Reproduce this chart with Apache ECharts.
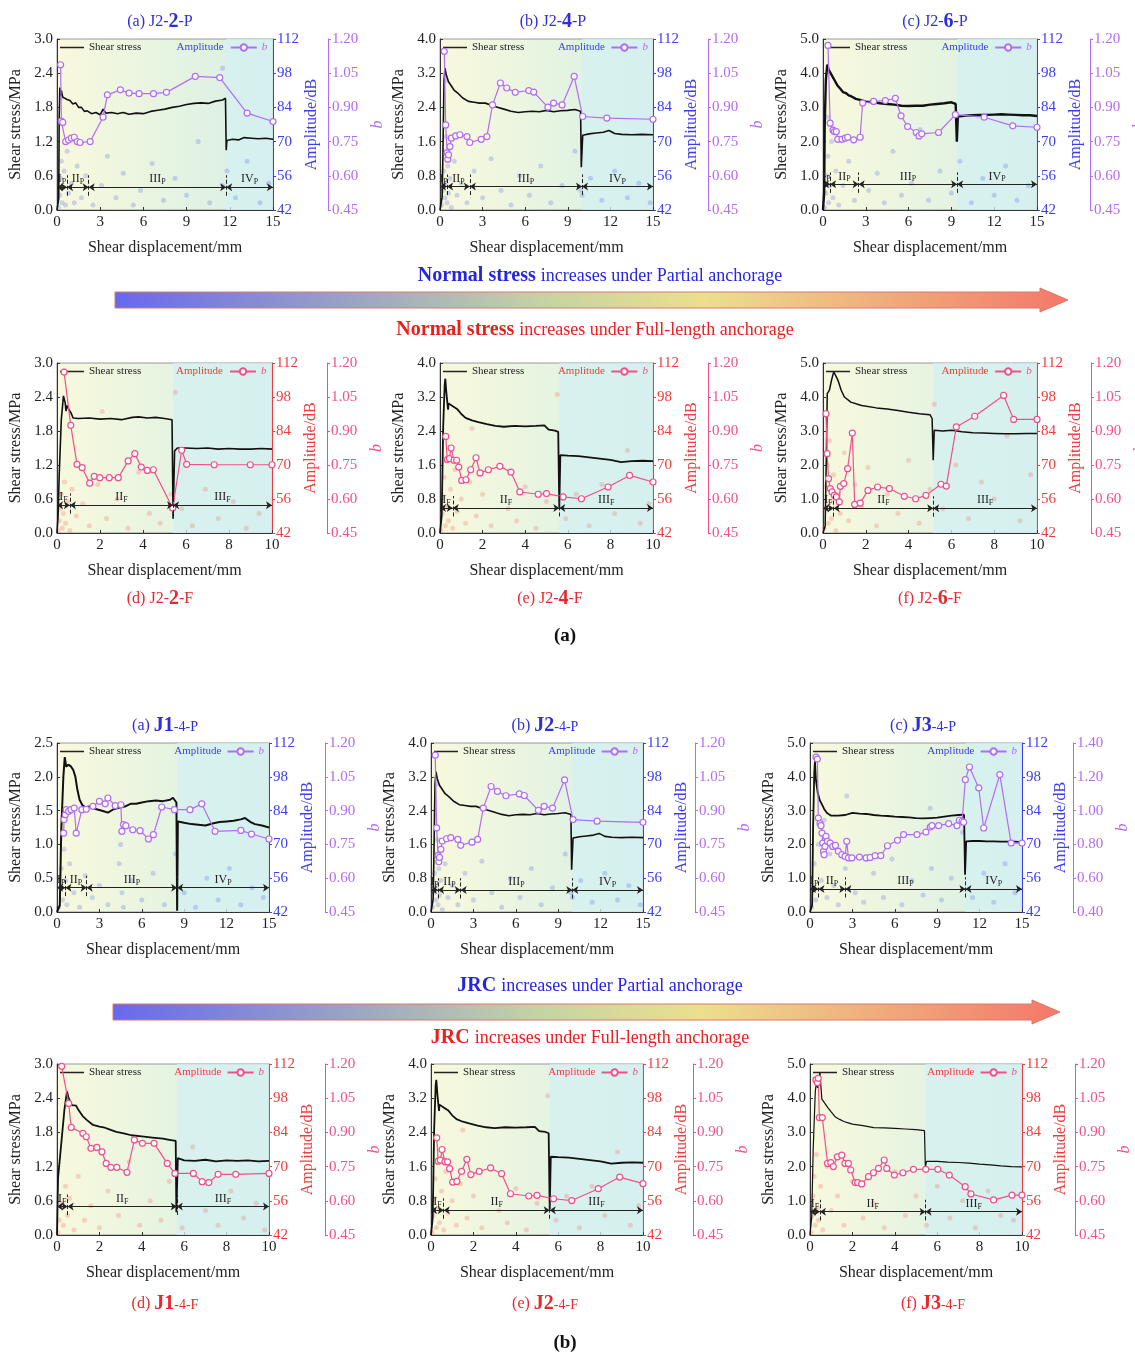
<!DOCTYPE html>
<html>
<head>
<meta charset="utf-8">
<script src="https://cdn.jsdelivr.net/npm/echarts@6/dist/echarts.min.js"></script>
<style>html,body{margin:0;background:#fff}#main{width:1135px;height:1357px}</style>
</head>
<body>
<div id="main"></div>
<script>
// ---- data ----
const s_J22P = [[0,0],[0.12,0.2],[0.15,1.6],[0.2,2.15],[0.25,2.0],[0.3,2.1],[0.4,1.98],[0.5,2.0],[0.7,1.94],[0.9,1.92],[1.1,1.86],[1.3,1.88],[1.5,1.8],[1.7,1.8],[1.9,1.73],[2.1,1.74],[2.4,1.69],[2.7,1.71],[3.0,1.67],[3.2,1.77],[3.4,1.70],[3.8,1.71],[4.2,1.69],[4.6,1.71],[5.0,1.68],[5.5,1.70],[6.0,1.69],[6.5,1.73],[7.0,1.75],[7.5,1.77],[8.0,1.80],[8.5,1.82],[9.0,1.85],[9.5,1.87],[10.0,1.88],[10.5,1.87],[11.0,1.91],[11.5,1.93],[11.7,1.96],[11.75,1.05],[11.8,1.22],[12.2,1.24],[12.6,1.23],[13.0,1.27],[13.5,1.26],[14.0,1.25],[14.5,1.26],[15,1.24]];
const b_J22P = [[0.25,1.087],[0.3,0.84],[0.4,0.834],[0.6,0.75],[0.8,0.757],[1.0,0.765],[1.2,0.769],[1.4,0.75],[1.6,0.746],[2.3,0.75],[3.2,0.857],[3.5,0.955],[4.4,0.977],[5.0,0.963],[5.7,0.96],[6.7,0.96],[7.6,0.966],[9.6,1.036],[11.3,1.031],[13.2,0.875],[15,0.838]];
const amp_J22P = [[0.1,43],[0.2,48],[0.25,55],[0.3,62],[0.35,45],[0.4,51],[0.5,58],[0.6,44],[0.7,66],[0.8,49],[1.0,53],[1.2,45],[1.4,60],[1.7,47],[2.0,56],[2.5,44],[3.1,52],[3.5,64],[4.1,47],[4.6,57],[5.3,44],[5.8,50],[6.6,61],[7.4,46],[8.2,55],[9.0,48],[9.8,70],[10.6,45],[11.5,52],[11.8,58],[12.4,47],[13.2,62],[14.1,45],[14.7,53],[11.5,100],[0.3,88]];
const st_J22P = [0, 0.7, 2.2, 11.75, 15];

const s_J24P = [[0,0],[0.15,0.3],[0.2,1.2],[0.28,3.0],[0.35,3.32],[0.45,3.15],[0.6,3.0],[0.8,2.9],[1.0,2.8],[1.3,2.72],[1.6,2.62],[2.0,2.54],[2.4,2.52],[2.8,2.5],[3.2,2.5],[3.7,2.44],[4.1,2.40],[4.5,2.36],[5.0,2.31],[5.5,2.28],[6.0,2.30],[6.5,2.31],[7.0,2.30],[7.5,2.33],[8.0,2.30],[8.5,2.32],[9.0,2.33],[9.5,2.35],[9.9,2.31],[9.95,1.0],[10.05,1.75],[10.5,1.78],[11.0,1.80],[11.5,1.82],[11.9,1.86],[12.3,1.79],[12.8,1.77],[13.5,1.76],[14.2,1.77],[15,1.76]];
const b_J24P = [[0.3,1.146],[0.4,0.823],[0.5,0.70],[0.55,0.673],[0.6,0.692],[0.7,0.728],[0.8,0.765],[1.1,0.775],[1.4,0.78],[1.9,0.772],[2.1,0.746],[2.9,0.76],[3.3,0.772],[3.7,0.911],[4.25,1.007],[4.7,0.985],[5.3,0.966],[6.25,0.974],[6.6,0.967],[7.6,0.901],[8.0,0.919],[8.6,0.911],[9.45,1.036],[10.05,0.86],[11.75,0.853],[15,0.848]];
const amp_J24P = [[0.1,44],[0.2,50],[0.25,58],[0.3,66],[0.35,47],[0.4,53],[0.45,72],[0.5,45],[0.55,60],[0.6,49],[0.7,55],[0.8,43],[1.0,62],[1.2,48],[1.5,53],[1.9,45],[2.4,58],[3.0,47],[3.6,63],[4.3,50],[5.0,44],[5.6,56],[6.3,48],[7.1,60],[7.8,45],[8.6,52],[9.5,66],[10.0,48],[10.6,55],[11.4,46],[12.3,58],[13.2,47],[14.0,53],[14.8,45],[0.4,95],[9.9,50]];
const st_J24P = [0, 0.5, 2.1, 10.0, 15];

const s_J26P = [[0,0],[0.08,0.5],[0.12,2.5],[0.2,3.8],[0.3,4.25],[0.4,4.1],[0.5,4.15],[0.6,3.95],[0.8,3.8],[1.0,3.65],[1.2,3.55],[1.4,3.45],[1.6,3.42],[1.8,3.35],[2.0,3.32],[2.3,3.25],[2.6,3.22],[3.0,3.17],[3.5,3.15],[4.0,3.12],[4.5,3.1],[5.0,3.08],[5.5,3.05],[6.0,3.04],[6.5,3.05],[7.0,3.05],[7.5,3.08],[8.0,3.1],[8.5,3.12],[9.0,3.15],[9.3,3.1],[9.38,2.0],[9.45,2.73],[10.0,2.76],[10.5,2.77],[11.0,2.78],[11.5,2.78],[12.0,2.79],[12.5,2.8],[13.0,2.79],[13.5,2.78],[14.0,2.77],[14.5,2.77],[15,2.75]];
const b_J26P = [[0.35,1.172],[0.5,0.831],[0.7,0.80],[0.8,0.794],[0.93,0.794],[1.03,0.76],[1.33,0.76],[1.56,0.765],[1.73,0.769],[2.15,0.758],[2.6,0.769],[2.78,0.919],[3.55,0.926],[4.37,0.93],[5.07,0.94],[5.47,0.863],[5.93,0.816],[6.54,0.79],[6.73,0.775],[6.92,0.784],[8.1,0.79],[9.28,0.868],[11.3,0.857],[13.3,0.819],[15,0.813]];
const amp_J26P = [[0.1,43],[0.2,49],[0.3,56],[0.35,64],[0.4,45],[0.5,52],[0.6,70],[0.7,47],[0.9,58],[1.1,44],[1.4,52],[1.8,62],[2.2,46],[2.7,72],[3.2,50],[3.8,57],[4.3,45],[4.9,66],[5.5,48],[6.2,53],[6.8,75],[7.4,46],[8.2,58],[9.0,49],[9.6,62],[10.4,45],[11.2,55],[12.0,48],[12.8,60],[13.6,46],[14.4,52],[0.3,80]];
const st_J26P = [0, 0.5, 2.5, 9.4, 15];

const s_J22F = [[0,0],[0.05,0.3],[0.1,1.0],[0.2,2.0],[0.3,2.42],[0.38,2.3],[0.42,2.15],[0.45,2.25],[0.55,2.18],[0.65,2.12],[0.75,2.03],[1.0,2.02],[1.5,2.03],[2.0,2.01],[2.5,2.02],[3.0,2.0],[3.5,2.04],[3.8,2.05],[4.2,2.03],[4.6,2.04],[5.0,2.02],[5.35,2.0],[5.4,0.25],[5.47,1.45],[5.6,1.5],[6.0,1.5],[6.5,1.49],[7.0,1.5],[7.5,1.48],[8.0,1.49],[8.5,1.48],[9.0,1.48],[9.5,1.49],[10,1.48]];
const b_J22F = [[0.33,1.16],[0.64,0.925],[0.93,0.753],[1.17,0.738],[1.52,0.67],[1.73,0.70],[1.99,0.694],[2.43,0.694],[2.85,0.694],[3.31,0.768],[3.62,0.80],[3.92,0.741],[4.2,0.726],[4.48,0.729],[5.38,0.56],[5.8,0.815],[6.03,0.753],[7.31,0.751],[8.99,0.751],[10,0.751]];
const amp_J22F = [[0.05,43],[0.1,47],[0.15,52],[0.2,58],[0.25,44],[0.3,50],[0.35,63],[0.4,46],[0.5,55],[0.6,43],[0.7,60],[0.9,49],[1.2,54],[1.5,45],[1.9,62],[2.3,48],[2.8,56],[3.3,44],[3.8,67],[4.3,50],[4.8,46],[5.3,58],[5.5,100],[5.8,52],[6.3,45],[6.9,60],[7.5,48],[8.2,55],[8.8,44],[9.4,50],[2.1,92]];
const st_J22F = [0, 0.6, 5.4, 10];

const s_J24F = [[0,0],[0.08,0.4],[0.15,2.5],[0.22,3.5],[0.25,3.63],[0.3,3.3],[0.35,3.04],[0.38,2.9],[0.4,3.05],[0.6,2.98],[0.8,2.92],[1.0,2.8],[1.2,2.71],[1.5,2.65],[1.8,2.61],[2.2,2.56],[2.6,2.52],[3.0,2.5],[3.5,2.52],[4.0,2.51],[4.5,2.52],[4.9,2.53],[5.1,2.43],[5.4,2.41],[5.55,2.38],[5.6,0.6],[5.65,1.83],[6.0,1.82],[6.5,1.81],[7.0,1.78],[7.5,1.75],[8.0,1.72],[8.5,1.67],[9.0,1.69],[9.5,1.70],[10,1.69]];
const b_J24F = [[0.27,0.876],[0.34,0.774],[0.44,0.778],[0.52,0.825],[0.66,0.771],[0.78,0.771],[0.88,0.741],[1.02,0.682],[1.22,0.685],[1.44,0.729],[1.69,0.782],[1.88,0.715],[2.27,0.729],[2.81,0.744],[3.33,0.719],[3.75,0.631],[4.61,0.621],[5.0,0.624],[5.78,0.609],[6.64,0.601],[7.89,0.653],[8.9,0.704],[10,0.675]];
const amp_J24F = [[0.05,43],[0.1,50],[0.15,57],[0.2,65],[0.25,45],[0.3,72],[0.35,53],[0.4,47],[0.5,60],[0.6,44],[0.7,68],[0.8,51],[1.0,56],[1.2,46],[1.4,63],[1.7,49],[2.0,58],[2.4,45],[2.8,70],[3.2,52],[3.6,47],[4.0,61],[4.5,44],[5.0,55],[5.5,99],[5.9,48],[6.4,58],[7.0,45],[7.6,62],[8.2,50],[8.8,76],[9.4,46],[9.8,54],[1.5,85]];
const st_J24F = [0, 0.6, 5.6, 10];

const s_J26F = [[0,0],[0.1,0.2],[0.15,2.04],[0.2,4.1],[0.3,4.2],[0.4,4.5],[0.5,4.74],[0.6,4.62],[0.7,4.49],[0.85,4.2],[1.0,4.0],[1.3,3.85],[1.8,3.75],[2.5,3.68],[3.0,3.65],[3.5,3.6],[4.0,3.55],[4.5,3.51],[5.0,3.48],[5.1,3.36],[5.15,2.14],[5.2,3.02],[5.6,3.0],[6.0,3.02],[6.5,2.98],[7.0,2.95],[7.5,2.94],[8.0,2.93],[8.5,2.92],[9.0,2.92],[9.5,2.93],[10,2.93]];
const b_J26F = [[0.14,0.976],[0.19,0.8],[0.26,0.69],[0.34,0.646],[0.42,0.631],[0.53,0.616],[0.62,0.609],[0.76,0.587],[0.81,0.656],[0.97,0.668],[1.15,0.734],[1.37,0.891],[1.48,0.576],[1.74,0.582],[2.1,0.638],[2.55,0.653],[3.1,0.646],[3.8,0.612],[4.33,0.601],[4.81,0.616],[5.51,0.665],[5.76,0.657],[6.23,0.918],[7.09,0.965],[8.44,1.057],[8.91,0.951],[10,0.951]];
const amp_J26F = [[0.05,44],[0.1,52],[0.15,61],[0.2,70],[0.25,46],[0.3,80],[0.35,55],[0.4,48],[0.5,66],[0.6,43],[0.7,58],[0.8,50],[1.0,75],[1.2,47],[1.5,62],[1.8,53],[2.1,69],[2.5,45],[3.0,58],[3.5,50],[4.0,72],[4.5,46],[5.0,60],[5.2,95],[5.6,52],[6.2,70],[6.8,48],[7.4,63],[8.0,56],[8.6,82],[9.2,47],[9.7,66]];
const st_J26F = [0, 0.5, 5.15, 10];

const s_J14P = [[0,0],[0.2,0.1],[0.3,1.2],[0.45,2.0],[0.55,2.29],[0.65,2.15],[0.8,2.18],[1.0,2.15],[1.15,2.1],[1.3,2.0],[1.45,1.8],[1.6,1.66],[1.8,1.58],[2.0,1.55],[2.3,1.56],[2.6,1.53],[3.0,1.51],[3.3,1.49],[3.6,1.47],[4.0,1.52],[4.5,1.55],[4.8,1.56],[5.2,1.6],[5.6,1.6],[6.0,1.62],[6.5,1.64],[7.0,1.65],[7.5,1.64],[8.0,1.66],[8.2,1.69],[8.45,1.62],[8.5,0.02],[8.55,1.34],[9.0,1.32],[9.5,1.3],[10.0,1.29],[10.5,1.28],[11.0,1.31],[11.5,1.33],[12.0,1.34],[12.5,1.35],[13.0,1.37],[13.3,1.39],[13.7,1.33],[14.0,1.30],[14.5,1.28],[15,1.25]];
const b_J14P = [[0.47,0.8],[0.5,0.86],[0.59,0.882],[0.65,0.904],[0.82,0.897],[0.99,0.904],[1.22,0.911],[1.36,0.8],[1.76,0.904],[2.07,0.906],[2.54,0.919],[3.0,0.941],[3.41,0.93],[3.6,0.956],[4.12,0.922],[4.52,0.926],[4.59,0.808],[4.7,0.838],[4.87,0.833],[5.36,0.815],[5.88,0.811],[6.47,0.774],[6.82,0.793],[7.41,0.916],[8.31,0.904],[9.41,0.904],[10.24,0.93],[11.18,0.808],[13.01,0.812],[13.76,0.796],[15,0.774]];
const amp_J14P = [[0.1,44],[0.2,52],[0.3,60],[0.4,47],[0.5,68],[0.6,55],[0.7,45],[0.9,62],[1.2,50],[1.6,44],[2.0,57],[2.5,48],[3.0,53],[3.6,45],[4.4,62],[4.5,70],[4.6,50],[4.7,44],[5.3,55],[6.0,47],[6.8,58],[7.6,45],[8.4,66],[9.0,50],[9.8,44],[10.6,56],[11.4,47],[12.2,60],[13.0,45],[13.8,52],[14.6,48]];
const st_J14P = [0, 0.6, 2.1, 8.5, 15];

const s_J34P = [[0,0],[0.15,0.2],[0.22,2.5],[0.3,4.1],[0.35,4.46],[0.42,3.9],[0.55,3.52],[0.7,3.3],[0.8,3.22],[1.0,3.05],[1.2,2.93],[1.5,2.85],[2.0,2.85],[2.5,2.87],[3.0,2.93],[3.5,2.91],[4.0,2.9],[4.5,2.87],[5.0,2.85],[5.5,2.84],[6.0,2.82],[6.5,2.81],[7.0,2.8],[7.5,2.78],[8.0,2.77],[8.5,2.78],[9.0,2.79],[9.5,2.82],[10.0,2.85],[10.5,2.87],[10.9,2.88],[10.97,1.1],[11.05,2.09],[11.5,2.1],[12.0,2.1],[12.5,2.09],[13.0,2.09],[13.5,2.08],[14.0,2.08],[14.5,2.08],[15,2.07]];
const b_J34P = [[0.43,1.317],[0.52,1.305],[0.59,0.956],[0.71,0.923],[0.78,0.911],[0.85,0.867],[0.9,0.808],[0.95,0.759],[1.0,0.739],[1.06,0.788],[1.13,0.848],[1.23,0.818],[1.42,0.808],[1.61,0.788],[1.8,0.794],[2.0,0.759],[2.25,0.739],[2.48,0.729],[2.6,0.818],[2.72,0.72],[2.96,0.72],[3.5,0.725],[3.97,0.72],[4.26,0.723],[4.61,0.733],[5.01,0.733],[5.48,0.792],[6.19,0.824],[6.62,0.858],[7.57,0.858],[8.2,0.873],[8.51,0.903],[8.63,0.911],[9.1,0.911],[9.81,0.923],[10.4,0.911],[10.57,0.943],[10.76,0.937],[10.87,0.931],[10.99,1.183],[11.28,1.258],[11.94,1.134],[12.29,0.897],[13.43,1.213],[14.23,0.808],[15,0.808]];
const amp_J34P = [[0.1,44],[0.2,52],[0.3,62],[0.4,47],[0.6,70],[0.8,55],[1.0,80],[1.2,48],[1.4,66],[1.7,53],[2.0,45],[2.5,60],[2.6,90],[3.2,50],[3.8,46],[4.5,58],[5.2,48],[5.8,64],[6.5,45],[7.2,55],[8.0,49],[8.5,85],[8.6,60],[9.3,47],[10.0,56],[10.8,75],[11.5,48],[12.3,58],[13.0,46],[13.8,62],[14.5,50]];
const st_J34P = [0, 0.6, 2.5, 11.0, 15];

const s_J14F = [[0,0],[0.05,1.0],[0.2,1.6],[0.35,2.2],[0.47,2.52],[0.55,2.4],[0.7,2.28],[0.9,2.27],[1.0,2.2],[1.2,2.09],[1.4,2.02],[1.7,1.93],[2.0,1.9],[2.2,1.89],[2.5,1.85],[2.8,1.81],[3.2,1.78],[3.5,1.75],[4.0,1.73],[4.5,1.71],[5.0,1.69],[5.3,1.67],[5.6,1.65],[5.63,0.4],[5.7,1.35],[6.0,1.31],[6.5,1.30],[7.0,1.32],[7.5,1.29],[8.0,1.31],[8.5,1.30],[9.0,1.31],[9.5,1.29],[10,1.30]];
const b_J14F = [[0.22,1.19],[0.55,1.027],[0.67,0.922],[1.22,0.896],[1.38,0.881],[1.6,0.83],[1.88,0.834],[2.12,0.815],[2.32,0.764],[2.54,0.747],[2.82,0.747],[3.3,0.725],[3.65,0.867],[4.03,0.852],[4.58,0.852],[5.2,0.764],[5.56,0.72],[6.43,0.72],[6.85,0.684],[7.16,0.68],[7.6,0.716],[8.43,0.716],[10,0.72]];
const amp_J14F = [[0.05,43],[0.1,48],[0.2,55],[0.3,46],[0.4,62],[0.5,50],[0.6,57],[0.8,44],[1.0,66],[1.3,48],[1.6,54],[2.0,45],[2.4,60],[2.9,50],[3.4,72],[3.9,46],[4.4,56],[4.9,48],[5.3,64],[5.9,45],[6.4,78],[7.0,52],[7.6,46],[8.2,60],[8.8,49],[9.4,55],[9.8,44]];
const st_J14F = [0, 0.5, 5.65, 10];

const s_J34F = [[0,0],[0.08,0.5],[0.15,2.5],[0.25,4.2],[0.3,4.45],[0.36,4.3],[0.42,4.6],[0.47,4.76],[0.52,4.3],[0.56,3.97],[0.7,3.85],[0.85,3.72],[1.0,3.6],[1.2,3.45],[1.4,3.38],[1.6,3.32],[1.8,3.28],[2.0,3.24],[2.5,3.2],[3.0,3.14],[3.5,3.13],[4.0,3.12],[4.5,3.1],[5.0,3.08],[5.4,3.05],[5.44,2.0],[5.5,2.15],[6.0,2.15],[6.5,2.13],[7.0,2.12],[7.5,2.1],[8.0,2.07],[8.5,2.05],[9.0,2.02],[9.5,2.0],[10,1.99]];
const b_J34F = [[0.28,1.13],[0.35,1.118],[0.39,1.137],[0.44,0.965],[0.58,0.965],[0.83,0.764],[0.98,0.767],[1.1,0.75],[1.29,0.793],[1.5,0.8],[1.65,0.764],[1.81,0.764],[1.92,0.735],[2.13,0.68],[2.25,0.68],[2.44,0.674],[2.76,0.706],[2.99,0.723],[3.23,0.742],[3.5,0.779],[3.62,0.742],[3.98,0.713],[4.38,0.723],[4.88,0.738],[5.46,0.738],[6.03,0.738],[6.57,0.713],[7.32,0.662],[7.59,0.63],[8.66,0.604],[9.53,0.625],[10,0.625]];
const amp_J34F = [[0.05,43],[0.1,50],[0.15,58],[0.2,66],[0.25,46],[0.3,75],[0.35,53],[0.4,48],[0.5,62],[0.6,44],[0.8,70],[1.0,52],[1.3,58],[1.6,46],[2.0,64],[2.5,49],[3.0,55],[3.5,45],[4.0,68],[4.5,50],[5.0,58],[5.5,46],[6.0,62],[6.6,49],[7.2,56],[7.8,45],[8.4,60],[9.0,50],[9.6,48]];
const st_J34F = [0, 0.47, 5.45, 10];

// ---- panels ----
const panels = [
  {title:'{n|(a) J2-}{k|2}{n|-P}', tx:155, ty:7,   kind:'P', xMax:15, xInt:3, yMax:3, yInt:0.6, bMin:0.45, bMax:1.2, bInt:0.15, stress:s_J22P, b:b_J22P, amp:amp_J22P, st:st_J22P, stY:0.4, lw:1.6},
  {title:'{n|(b) J2-}{k|4}{n|-P}', tx:548, ty:7,   kind:'P', xMax:15, xInt:3, yMax:4, yInt:0.8, bMin:0.45, bMax:1.2, bInt:0.15, stress:s_J24P, b:b_J24P, amp:amp_J24P, st:st_J24P, stY:0.55, lw:1.6},
  {title:'{n|(c) J2-}{k|6}{n|-P}', tx:930, ty:7,   kind:'P', xMax:15, xInt:3, yMax:5, yInt:1.0, bMin:0.45, bMax:1.2, bInt:0.15, stress:s_J26P, b:b_J26P, amp:amp_J26P, st:st_J26P, stY:0.75, lw:2.4},
  {title:'{n|(d) J2-}{k|2}{n|-F}', tx:155, ty:584, kind:'F', xMax:10, xInt:2, yMax:3, yInt:0.6, bMin:0.45, bMax:1.2, bInt:0.15, stress:s_J22F, b:b_J22F, amp:amp_J22F, st:st_J22F, stY:0.49, lw:1.6},
  {title:'{n|(e) J2-}{k|4}{n|-F}', tx:545, ty:584, kind:'F', xMax:10, xInt:2, yMax:4, yInt:0.8, bMin:0.45, bMax:1.2, bInt:0.15, stress:s_J24F, b:b_J24F, amp:amp_J24F, st:st_J24F, stY:0.59, lw:1.8},
  {title:'{n|(f) J2-}{k|6}{n|-F}', tx:925, ty:584, kind:'F', xMax:10, xInt:2, yMax:5, yInt:1.0, bMin:0.45, bMax:1.2, bInt:0.15, stress:s_J26F, b:b_J26F, amp:amp_J26F, st:st_J26F, stY:0.73, lw:1.5},
  {title:'{n|(a) }{k|J1}{m|-4-P}', tx:160, ty:711, kind:'P', xMax:15, xInt:3, yMax:2.5, yInt:0.5, bMin:0.45, bMax:1.2, bInt:0.15, stress:s_J14P, b:b_J14P, amp:amp_J14P, st:st_J14P, stY:0.36, lw:2.0},
  {title:'{n|(b) }{k|J2}{m|-4-P}', tx:540, ty:711, kind:'P', xMax:15, xInt:3, yMax:4, yInt:0.8, bMin:0.45, bMax:1.2, bInt:0.15, stress:s_J24P, b:b_J24P, amp:amp_J24P, st:st_J24P, stY:0.52, lw:1.6},
  {title:'{n|(c) }{k|J3}{m|-4-P}', tx:918, ty:711, kind:'P', xMax:15, xInt:3, yMax:5, yInt:1.0, bMin:0.4, bMax:1.4, bInt:0.2, stress:s_J34P, b:b_J34P, amp:amp_J34P, st:st_J34P, stY:0.68, lw:1.8},
  {title:'{n|(d) }{k|J1}{m|-4-F}', tx:160, ty:1289, kind:'F', xMax:10, xInt:2, yMax:3, yInt:0.6, bMin:0.45, bMax:1.2, bInt:0.15, stress:s_J14F, b:b_J14F, amp:amp_J14F, st:st_J14F, stY:0.5, lw:1.8},
  {title:'{n|(e) }{k|J2}{m|-4-F}', tx:540, ty:1289, kind:'F', xMax:10, xInt:2, yMax:4, yInt:0.8, bMin:0.45, bMax:1.2, bInt:0.15, stress:s_J24F, b:b_J24F, amp:amp_J24F, st:st_J24F, stY:0.58, lw:1.8},
  {title:'{n|(f) }{k|J3}{m|-4-F}', tx:928, ty:1289, kind:'F', xMax:10, xInt:2, yMax:5, yInt:1.0, bMin:0.45, bMax:1.2, bInt:0.15, stress:s_J34F, b:b_J34F, amp:amp_J34F, st:st_J34F, stY:0.68, lw:1.2}
];

const layout = [
  {left:57, top:39, width:216, height:171, off:55},
  {left:440, top:39, width:213, height:171, off:55},
  {left:823, top:39, width:214, height:171, off:53},
  {left:57, top:363, width:215, height:170, off:55},
  {left:440, top:363, width:213, height:170, off:55},
  {left:823, top:363, width:214, height:170, off:54},
  {left:57, top:743, width:212, height:169, off:56},
  {left:431, top:743, width:212, height:169, off:52},
  {left:810, top:743, width:212, height:169, off:51},
  {left:57, top:1064, width:212, height:171, off:56},
  {left:431, top:1064, width:212, height:171, off:50},
  {left:810, top:1064, width:212, height:171, off:53}
];

const SERIF = 'Liberation Serif';
const theme = {
  P: {amp:'#3d3def', b:'#b46cf0', dot:'rgba(80,90,235,0.3)', title:'#2f2fd8'},
  F: {amp:'#ef3d3d', b:'#f0508c', dot:'rgba(240,90,90,0.3)', title:'#e8282c'}
};

function stageLines(st, y, yMax, sub) {
  const roman = ['I', 'II', 'III', 'IV'];
  const out = [];
  for (let k = 0; k < st.length - 1; k++) {
    out.push([
      {coord: [st[k], y], symbol: 'arrow', label: {show: true, formatter: '{r|' + roman[k] + '}{s|' + sub + '}'}},
      {coord: [st[k + 1], y], symbol: 'arrow'}
    ]);
  }
  for (let k = 1; k < st.length - 1; k++) {
    out.push([
      {coord: [st[k], y - yMax * 0.05], symbol: 'none', lineStyle: {type: 'dashed'}, label: {show: false}},
      {coord: [st[k], y + yMax * 0.07], symbol: 'none'}
    ]);
  }
  return out;
}

const grids = [], xAxes = [], yAxes = [], series = [], legends = [], titles = [];
const tickFont = {fontFamily: SERIF, fontSize: 15, color: '#222'};

panels.forEach((p, i) => {
  const L = layout[i], c = theme[p.kind];
  grids.push({
    left: L.left, top: L.top, width: L.width, height: L.height,
    show: true, borderColor: '#999', borderWidth: 1, outerBoundsMode: 'none',
    backgroundColor: {type: 'linear', x: 0, y: 0, x2: 1, y2: 0,
      colorStops: [{offset: 0, color: '#f8f9dd'}, {offset: 1, color: '#d6efe6'}]}
  });
  xAxes.push({
    gridIndex: i, type: 'value', min: 0, max: p.xMax, interval: p.xInt,
    name: 'Shear displacement/mm', nameLocation: 'middle', nameGap: 30,
    nameTextStyle: {fontFamily: SERIF, fontSize: 16, color: '#222'},
    axisLine: {onZero: false, lineStyle: {color: '#333'}},
    axisTick: {inside: true, length: 3, lineStyle: {color: '#333'}},
    axisLabel: Object.assign({margin: 5}, tickFont),
    splitLine: {show: false}
  });
  yAxes.push({
    gridIndex: i, type: 'value', min: 0, max: p.yMax, interval: p.yInt,
    name: 'Shear stress/MPa', nameLocation: 'middle', nameGap: 33, nameRotate: 90,
    nameTextStyle: {fontFamily: SERIF, fontSize: 16, color: '#222'},
    axisLine: {show: true, lineStyle: {color: '#333'}},
    axisTick: {inside: true, length: 3},
    axisLabel: Object.assign({margin: 4, formatter: v => v.toFixed(1)}, tickFont),
    splitLine: {show: false}
  });
  yAxes.push({
    gridIndex: i, type: 'value', position: 'right', min: 42, max: 112, interval: 14,
    name: 'Amplitude/dB', nameLocation: 'middle', nameGap: 31, nameRotate: 90,
    nameTextStyle: {fontFamily: SERIF, fontSize: 16, color: c.amp},
    axisLine: {show: true, lineStyle: {color: c.amp}},
    axisTick: {show: true, length: 3, lineStyle: {color: c.amp}},
    axisLabel: Object.assign({}, tickFont, {color: c.amp, margin: 4}),
    splitLine: {show: false}
  });
  yAxes.push({
    gridIndex: i, type: 'value', position: 'right', offset: L.off,
    min: p.bMin, max: p.bMax, interval: p.bInt,
    name: 'b', nameLocation: 'middle', nameGap: 42, nameRotate: 90,
    nameTextStyle: {fontFamily: SERIF, fontSize: 16, fontStyle: 'italic', color: c.b},
    axisLine: {show: true, lineStyle: {color: c.b}},
    axisTick: {show: true, length: 3, lineStyle: {color: c.b}},
    axisLabel: Object.assign({}, tickFont, {color: c.b, margin: 4, formatter: v => v.toFixed(2)}),
    splitLine: {show: false}
  });
  const last = p.st[p.st.length - 2];
  // tint for the last stage
  series.push({
    type: 'line', xAxisIndex: i, yAxisIndex: 3 * i, data: [], silent: true, z: 0,
    markArea: {silent: true, itemStyle: {color: 'rgba(212,240,242,0.75)'},
      data: [[{xAxis: last}, {xAxis: p.xMax}]]}
  });
  series.push({
    name: 'Amplitude#' + i, type: 'scatter', xAxisIndex: i, yAxisIndex: 3 * i + 1,
    data: p.amp, symbolSize: 5, silent: true, z: 1,
    itemStyle: {color: c.dot}
  });
  series.push({
    name: 'Shear stress#' + i, type: 'line', xAxisIndex: i, yAxisIndex: 3 * i,
    data: p.stress, symbol: 'none', z: 3,
    lineStyle: {color: '#111', width: p.lw},
    itemStyle: {color: '#111'},
    markLine: {
      silent: true, symbolSize: 6, animation: false,
      lineStyle: {color: '#222', width: 1, type: 'solid'},
      label: {show: true, position: 'middle', distance: 1,
        rich: {r: {fontFamily: SERIF, fontSize: 12, color: '#222'},
               s: {fontFamily: SERIF, fontSize: 8, color: '#222', padding: [6, 0, 0, 0]}}},
      data: stageLines(p.st, p.stY, p.yMax, p.kind)
    }
  });
  series.push({
    name: 'b#' + i, type: 'line', xAxisIndex: i, yAxisIndex: 3 * i + 2,
    data: p.b, symbol: 'circle', symbolSize: 6, z: 4,
    lineStyle: {color: c.b, width: 1.2},
    itemStyle: {color: '#fff', borderColor: c.b, borderWidth: 1.2}
  });
  const lg = {selectedMode: false, top: L.top + 3, itemHeight: 8, padding: 0,
    formatter: n => n.split('#')[0]};
  legends.push(Object.assign({}, lg, {left: L.left + 3, itemWidth: 24, itemHeight: 1.5,
    data: [{name: 'Shear stress#' + i, icon: 'rect', itemStyle: {color: '#222'}}],
    textStyle: {fontFamily: SERIF, fontSize: 11, color: '#222'}}));
  legends.push(Object.assign({}, lg, {left: L.left + L.width * 0.53, itemWidth: 0, itemGap: 0,
    data: [{name: 'Amplitude#' + i, icon: 'none'}],
    textStyle: {fontFamily: SERIF, fontSize: 11, color: c.amp}}));
  legends.push(Object.assign({}, lg, {left: L.left + L.width * 0.8, itemWidth: 26, data: ['b#' + i],
    textStyle: {fontFamily: SERIF, fontSize: 11, fontStyle: 'italic', color: c.b}}));
  titles.push({
    text: p.title, left: p.tx, top: p.ty, textAlign: 'center',
    textStyle: {fontWeight: 'normal', rich: {
      n: {fontFamily: SERIF, fontSize: 16, fontWeight: 'normal', color: c.title},
      m: {fontFamily: SERIF, fontSize: 14, fontWeight: 'normal', color: c.title, padding: [3, 0, 0, 0]},
      k: {fontFamily: SERIF, fontSize: 20, fontWeight: 'bold', color: c.title}
    }}
  });
});

// captions between rows
const capBlue = '#2626e0', capRed = '#e8201c';
function caption(bold, rest, x, y, color) {
  return {
    text: '{b|' + bold + '} {n|' + rest + '}', left: x, top: y, textAlign: 'center',
    textStyle: {fontWeight: 'normal', rich: {
      b: {fontFamily: SERIF, fontSize: 20, fontWeight: 'bold', color: color},
      n: {fontFamily: SERIF, fontSize: 18, fontWeight: 'normal', color: color}
    }}
  };
}
titles.push(caption('Normal stress', 'increases under Partial anchorage', 595, 261, capBlue));
titles.push(caption('Normal stress', 'increases under Full-length anchorage', 590, 315, capRed));
titles.push(caption('JRC', 'increases under Partial anchorage', 595, 971, capBlue));
titles.push(caption('JRC', 'increases under Full-length anchorage', 585, 1023, capRed));
titles.push({text: '(a)', left: 560, top: 622, textAlign: 'center',
  textStyle: {fontFamily: SERIF, fontSize: 19, fontWeight: 'bold', color: '#111'}});
titles.push({text: '(b)', left: 560, top: 1329, textAlign: 'center',
  textStyle: {fontFamily: SERIF, fontSize: 19, fontWeight: 'bold', color: '#111'}});

function bigArrow(x0, x1, tip, yc, h, hh) {
  return {
    type: 'polygon', silent: true,
    shape: {points: [[x0, yc - h / 2], [x1, yc - h / 2], [x1, yc - hh], [tip, yc],
                     [x1, yc + hh], [x1, yc + h / 2], [x0, yc + h / 2]]},
    style: {
      fill: new echarts.graphic.LinearGradient(0, 0, 1, 0, [
        {offset: 0, color: '#6868ee'}, {offset: 0.45, color: '#c5d3a4'},
        {offset: 0.62, color: '#ecdf8e'}, {offset: 1, color: '#f4776a'}]),
      stroke: '#d87a6c', lineWidth: 1
    }
  };
}

const chart = echarts.init(document.getElementById('main'));
chart.setOption({
  animation: false,
  backgroundColor: '#fff',
  title: titles,
  grid: grids,
  xAxis: xAxes,
  yAxis: yAxes,
  legend: legends,
  series: series,
  graphic: [bigArrow(115, 1040, 1068, 300, 16, 12), bigArrow(113, 1032, 1060, 1012, 16, 12)]
});
</script>
</body>
</html>
